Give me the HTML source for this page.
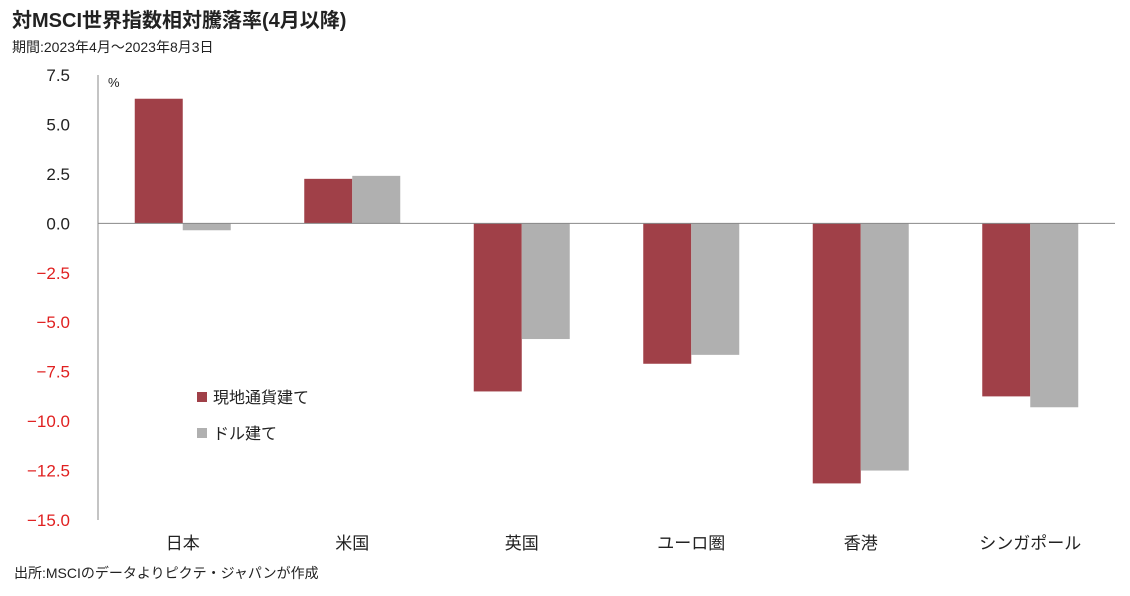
<!DOCTYPE html>
<html><head><meta charset="utf-8"><style>
body{margin:0;background:#fff;font-family:"Liberation Sans","Noto Sans CJK JP",sans-serif;}
svg text{font-family:"Liberation Sans","Noto Sans CJK JP",sans-serif;}
</style></head><body>
<svg width="1130" height="591" xmlns="http://www.w3.org/2000/svg">
<text x="12" y="27" font-size="20" font-weight="bold" fill="#222">対MSCI世界指数相対騰落率(4月以降)</text>
<text x="12" y="52" font-size="14" fill="#222">期間:2023年4月～2023年8月3日</text>
<text x="108" y="87" font-size="13" fill="#222">%</text>
<text x="14" y="578" font-size="14" fill="#222">出所:MSCIのデータよりピクテ・ジャパンが作成</text>
<g id="plot"></g>
<g>
<rect x="197" y="392" width="10" height="10" fill="#a04048"/>
<text x="213" y="403" font-size="16" fill="#222">現地通貨建て</text>
<rect x="197" y="428" width="10" height="10" fill="#b0b0b0"/>
<text x="213" y="439" font-size="16" fill="#222">ドル建て</text>
</g>
</svg>
<script>
const categories=["日本","米国","英国","ユーロ圏","香港","シンガポール"];
const localValues=[6.3,2.25,-8.5,-7.1,-13.15,-8.75];
const usdValues=[-0.35,2.4,-5.85,-6.65,-12.5,-9.3];
const tickValues=[7.5,5.0,2.5,0.0,-2.5,-5.0,-7.5,-10.0,-12.5,-15.0];
const tickLabels=["7.5","5.0","2.5","0.0","−2.5","−5.0","−7.5","−10.0","−12.5","−15.0"];
const ns="http://www.w3.org/2000/svg";
const g=document.getElementById('plot');
const x0=98,x1=1115,yTop=75,yBot=520,vMax=7.5,vMin=-15;
const y=v=>yTop+(vMax-v)/(vMax-vMin)*(yBot-yTop);
const bw=(x1-x0)/categories.length;
function mk(t,a){const e=document.createElementNS(ns,t);for(const k in a)e.setAttribute(k,a[k]);g.appendChild(e);return e;}
tickValues.forEach((v,i)=>{
 const t=mk('text',{x:70,y:y(v)+6,'font-size':17,'text-anchor':'end',fill:v<0?'#e02020':'#222'});
 
 
 t.textContent=tickLabels[i];
});
const ax=mk('line',{x1:x0,y1:yTop,x2:x0,y2:yBot,stroke:'#888'});


categories.forEach((c,i)=>{
 const cx=x0+bw*(i+0.5);
 [[localValues[i],'#a04048',-48,'bar-local'],[usdValues[i],'#b0b0b0',0,'bar-usd']].forEach(([v,col,off,nm])=>{
  const r=mk('rect',{x:cx+off,y:Math.min(y(v),y(0)),width:48,height:Math.abs(y(v)-y(0)),fill:col});
  
  
 });
 const t=mk('text',{x:cx,y:549,'font-size':17,'text-anchor':'middle',fill:'#222'});
 
 
 t.textContent=c;
});
const zl=mk('line',{x1:x0,y1:y(0),x2:x1,y2:y(0),stroke:'#888'});


</script>
</body></html>
